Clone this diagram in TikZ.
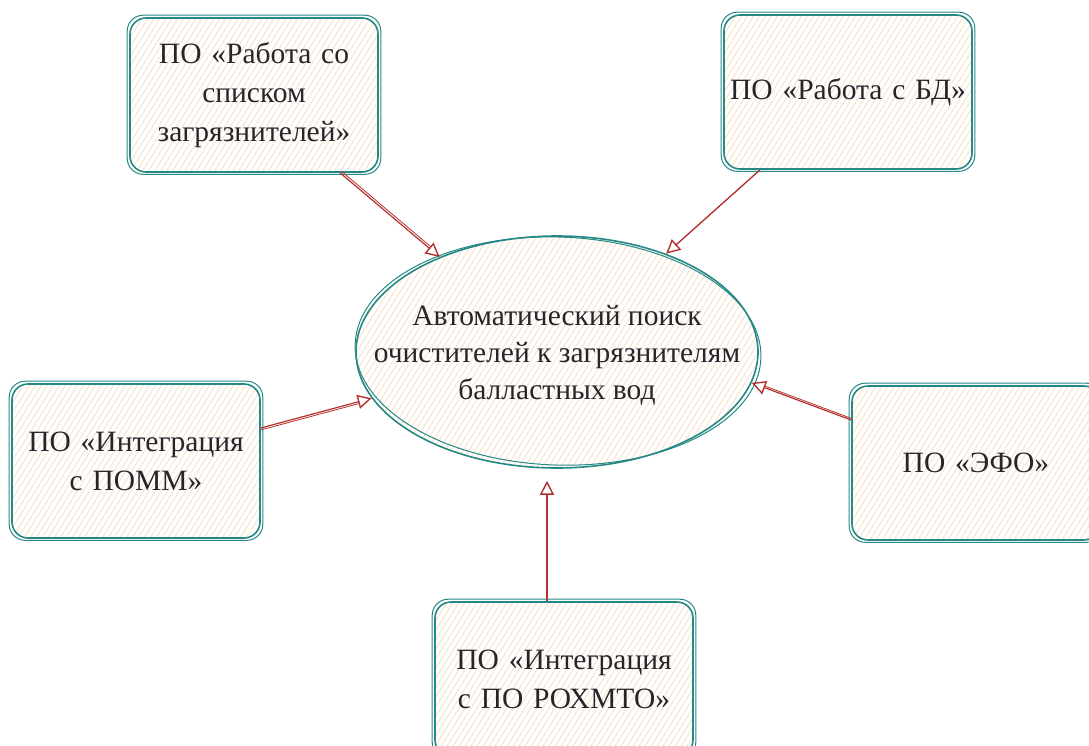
\documentclass[tikz,border=0pt]{standalone}
\usepackage{fontspec}
\setmainfont{Liberation Serif}
\usetikzlibrary{shapes.geometric,arrows.meta,calc}
\definecolor{tealc}{RGB}{38,136,133}
\definecolor{arrc}{RGB}{178,50,48}
\definecolor{hatchc}{RGB}{248,228,206}
\definecolor{txtc}{RGB}{38,38,42}
\tikzset{
  hatchfill/.style={path picture={
    \coordinate (ppsw) at (path picture bounding box.south west);
    \foreach \k in {-35,...,90}{\draw[hatchc, line width=1pt] ([xshift=\k*6pt]ppsw) -- ++(58:520pt);}
  }},
  boxn/.style={draw=tealc, line width=1.6pt, rounded corners=16pt,
    minimum width=248pt, minimum height=154pt, text width=236pt,
    align=center, font=\fontsize{29.5}{39}\selectfont, text=txtc, hatchfill},
  boxrough/.style={draw=tealc, line width=1pt, rounded corners=16pt},
  elln/.style={ellipse, draw=tealc, line width=1.6pt, minimum width=402pt,
    minimum height=232pt, inner sep=0pt, hatchfill},
  elltext/.style={align=center, font=\fontsize{29.5}{37}\selectfont, text=txtc},
  conn/.style={draw=arrc, line width=1.2pt,
    -{Triangle[open,length=14pt,width=14pt,line width=1.4pt]}},
  conn2/.style={draw=arrc, line width=0.8pt, shorten >=14pt},
}
\begin{document}
\begin{tikzpicture}[x=1pt,y=1pt]
\useasboundingbox (0,0) rectangle (1089,-745);
% central ellipse
\node[elln] (e) at (557,-352) {};
\draw[tealc, line width=1pt, rotate around={-2:(557,-352)}] (558,-351) ellipse [x radius=203pt, y radius=114pt];
\node[elltext] (et) at (557,-355) {Автоматический поиск\\очистителей к загрязнителям\\балластных вод};
% boxes
\node[boxn] (b1) at (254,-95) {ПО «Работа со\\ списком\\ загрязнителей»};
\node[boxn] (b2) at (848,-92) {ПО «Работа с БД»};
\node[boxn] (b3) at (136,-461) {ПО «Интеграция\\ с ПОММ»};
\node[boxn] (b4) at (976,-463) {ПО «ЭФО»};
\node[boxn, minimum width=258pt] (b5) at (564,-679) {ПО «Интеграция\\ с ПО РОХМТО»};
\foreach \n in {b1,b2,b3,b4,b5}{
  \draw[boxrough] ([shift={(-2pt,2pt)}]\n.north west) rectangle ([shift={(2pt,-1.5pt)}]\n.south east);
}
% connectors
\draw[conn] ([xshift=86pt]b1.south) -- (e.141.7);
\draw[conn2, transform canvas={shift={(1.5pt,1.5pt)}}] ([xshift=86pt]b1.south) -- (e.141.7);
\draw[conn] ([xshift=-88pt]b2.south) -- (e.42);
\draw[conn2, transform canvas={shift={(-1.2pt,-1.2pt)}}] ([xshift=-88pt]b2.south) -- (e.42);
\draw[conn] ([yshift=33pt]b3.east) -- (e.194);
\draw[conn2, transform canvas={shift={(0.5pt,-1.8pt)}}] ([yshift=33pt]b3.east) -- (e.194);
\draw[conn] ([yshift=43pt]b4.west) -- (e.-9);
\draw[conn2, transform canvas={shift={(0.5pt,1.5pt)}}] ([yshift=43pt]b4.west) -- (e.-9);
\draw[conn, shorten >=12pt] ([xshift=-17pt]b5.north) -- ([xshift=-10pt]e.south);
\end{tikzpicture}
\end{document}
